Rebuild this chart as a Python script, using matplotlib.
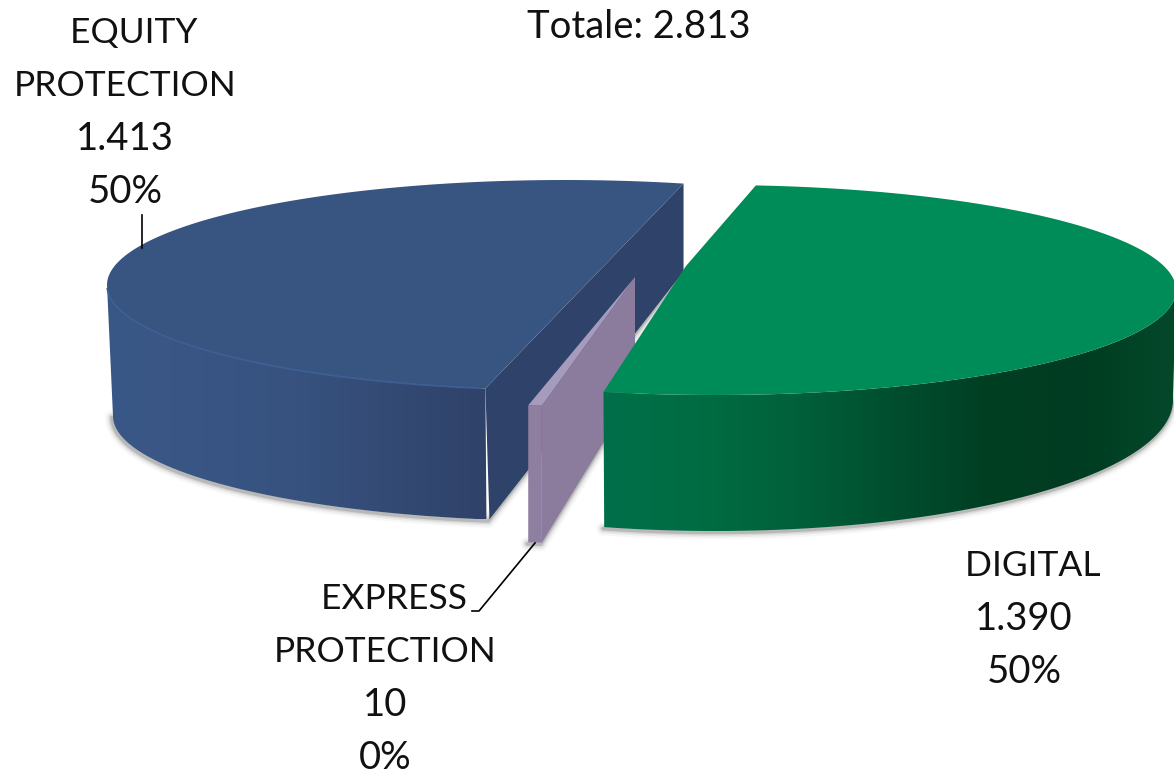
import numpy as np
import matplotlib
matplotlib.use('Agg')
import matplotlib.pyplot as plt
from matplotlib.colors import LinearSegmentedColormap
from matplotlib.patches import Polygon

# valori del grafico
names = ['EQUITY\nPROTECTION', 'EXPRESS\nPROTECTION', 'DIGITAL']
values = [1413, 10, 1390]
value_labels = ['1.413', '10', '1.390']
pct_labels = ['50%', '0%', '50%']
total_label = 'Totale: 2.813'

plt.rcParams['font.family'] = ['Lato', 'DejaVu Sans']

W, H = 1174, 774
FONT = 25.5
FONT_NUM = 27.5
LINE = 53


def ell(c, t):
    # c = (cx, cy, a, b), t in gradi
    t = np.radians(t)
    return np.column_stack([c[0] + c[2] * np.cos(t), c[1] - c[3] * np.sin(t)])


def shadow(ax, pts, z):
    # ombra sfumata solo lungo il bordo inferiore
    for lw, al in [(10, 0.03), (7, 0.05), (4.5, 0.08), (2.5, 0.14)]:
        ax.plot(pts[:, 0] - 1, pts[:, 1] + 1.5, color=(0, 0, 0, al), lw=lw, zorder=z,
                solid_capstyle='round')


def grad_fill(ax, pts, colors, z):
    cmap = LinearSegmentedColormap.from_list('g', colors)
    x0, x1 = pts[:, 0].min(), pts[:, 0].max()
    y0, y1 = pts[:, 1].min(), pts[:, 1].max()
    im = ax.imshow(np.linspace(0, 1, 256)[None, :], cmap=cmap, aspect='auto',
                   extent=[x0, x1, y1, y0], zorder=z)
    poly = Polygon(pts, closed=True, transform=ax.transData, fc='none', ec='none')
    ax.add_patch(poly)
    im.set_clip_path(poly)


fig = plt.figure(figsize=(W / 100, H / 100), dpi=100)
ax = fig.add_axes([0, 0, 1, 1])
ax.set_xlim(0, W)
ax.set_ylim(H, 0)
ax.axis('off')

spans = np.array(values) / sum(values) * 360

# fetta blu
top = (565, 285, 458, 105)
bot = (565, 416, 452, 105)
t0 = 75
t1 = t0 + spans[0] * 1.023
arc = ell(top, np.linspace(t0, t1, 200))
wall_t = np.linspace(180, t1, 120)
wall = np.vstack([ell(top, wall_t), ell(bot, wall_t)[::-1]])
inner = np.array([arc[0], arc[-1], ell(bot, [t1])[0] + [3, 0], arc[0] + [0, 88]])
shadow(ax, np.vstack([ell(bot, wall_t), inner[2:]]), 1)
ax.add_patch(Polygon(inner, closed=True, fc='#2f4269', ec='none', zorder=2))
grad_fill(ax, wall, ['#3a5887', '#37527f', '#2f4269'], 3)
ax.add_patch(Polygon(arc, closed=True, fc='#385480', ec='none', zorder=4))
ax.plot(*ell(top, np.linspace(182, t1 - 1, 100)).T, color='#3f5f94', lw=1.2, zorder=5)

# fetta viola
top = (636, 295, 620, 112)
bot = (636, 432, 620, 112)
t0 = t1
t1 = t0 + spans[1]
arc = ell(top, np.linspace(t0, t1, 10))
apex = np.array([635, 277])
bot_arc = ell(bot, np.linspace(t0, t1, 10))
face = np.vstack([arc, bot_arc[::-1]])
side = np.array([apex, arc[-1], bot_arc[-1], apex + [0, 114]])
shadow(ax, np.vstack([bot_arc, side[3]]), 6)
ax.add_patch(Polygon(side, closed=True, fc='#8b7b9c', ec='none', zorder=7))
ax.add_patch(Polygon(face, closed=True, fc='#8e7fa0', ec='none', zorder=7))
ax.add_patch(Polygon(np.vstack([arc, apex]), closed=True, fc='#a79bbd', ec='none', zorder=8))

# fetta verde
top = (715, 290, 461, 105)
bot = (715, 400, 458, 131)
t0 = 256
t1 = t0 + spans[2] * 1.062
arc = ell(top, np.linspace(t0, t1, 300))
apex = np.array([686, 266])
wall_t = np.linspace(t0, 360, 200)
wall = np.vstack([ell(top, wall_t), ell(bot, wall_t)[::-1]])
shadow(ax, ell(bot, wall_t), 9)
grad_fill(ax, wall, ['#00704a', '#006c43', '#00613a', '#004f2f', '#003f23', '#003c21', '#04482a'], 10)
ax.add_patch(Polygon(np.vstack([arc, apex]), closed=True, fc='#008c58', ec='none', zorder=11))

# linee guida
ax.plot([142, 142], [215, 248], color='black', lw=1.2, zorder=12)
ax.plot([535, 479, 472], [543, 611, 611], color='black', lw=1.2, zorder=12)

# etichette
pos = [(125, 33), (385, 599), (1024, 566)]
for n, v, p, xy in zip(names, value_labels, pct_labels, pos):
    first, *rest = n.split('\n')
    y = xy[1]
    ax.text(xy[0], y, '  ' + first, ha='center', va='center', fontsize=FONT, color='#111111', zorder=13)
    for r in rest:
        y += LINE
        ax.text(xy[0], y, r, ha='center', va='center', fontsize=FONT, color='#111111', zorder=13)
    for s in (v, p):
        y += LINE
        ax.text(xy[0], y, s, ha='center', va='center', fontsize=FONT_NUM, color='#111111', zorder=13)
ax.text(639, 27, total_label, ha='center', va='center', fontsize=FONT_NUM, color='#111111')

fig.savefig('out.png', dpi=100)
